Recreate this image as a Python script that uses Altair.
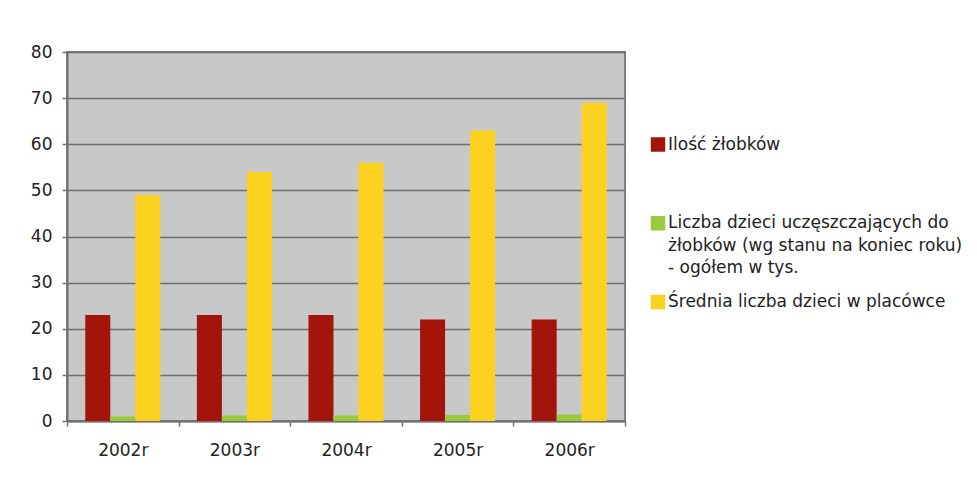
import altair as alt
import pandas as pd

years = ["2002r", "2003r", "2004r", "2005r", "2006r"]
series = [
    "Ilość żłobków",
    "Liczba dzieci uczęszczających do żłobków (wg stanu na koniec roku) - ogółem w tys.",
    "Średnia liczba dzieci w placówce",
]
legend_labels = [
    "Ilość żłobków",
    "Liczba dzieci uczęszczających do\nżłobków (wg stanu na koniec roku)\n- ogółem w tys.",
    "Średnia liczba dzieci w placówce",
]
ilosc = [23, 23, 23, 22, 22]
liczba = [1.0, 1.2, 1.2, 1.3, 1.4]
srednia = [49, 54, 56, 63, 69]
colors = ["#A3140B", "#9BCB3B", "#FDD11F"]

rows = []
for i, y in enumerate(years):
    for s, vals in zip(series, [ilosc, liczba, srednia]):
        rows.append({"rok": y, "seria": s, "wartosc": vals[i]})
df = pd.DataFrame(rows)
legend_df = pd.DataFrame({"seria": series, "etykieta": legend_labels})

FONT = "DejaVu Sans"
color_scale = alt.Scale(domain=series, range=colors)

bars = alt.Chart(df).mark_bar().encode(
    x=alt.X(
        "rok:N",
        sort=years,
        title=None,
        scale=alt.Scale(paddingInner=0, paddingOuter=0),
        axis=alt.Axis(
            labelAngle=0,
            labelFont=FONT,
            labelFontSize=17,
            labelColor="#222222",
            labelPadding=16,
            tickBand="extent",
            ticks=True,
            tickSize=5,
            tickColor="#707070",
            tickWidth=1.5,
            domainColor="#707070",
            domainWidth=2,
            grid=False,
        ),
    ),
    xOffset=alt.XOffset(
        "seria:N",
        sort=series,
        scale=alt.Scale(paddingInner=0, paddingOuter=0.73),
    ),
    y=alt.Y(
        "wartosc:Q",
        title=None,
        scale=alt.Scale(domain=[0, 80], nice=False),
        axis=alt.Axis(
            values=[0, 10, 20, 30, 40, 50, 60, 70, 80],
            labelFont=FONT,
            labelFontSize=17,
            labelColor="#222222",
            labelPadding=10,
            tickSize=5,
            tickColor="#707070",
            tickWidth=1.5,
            domainColor="#707070",
            domainWidth=2,
            gridColor="#6E6E6E",
            gridWidth=1.5,
        ),
    ),
    color=alt.Color("seria:N", sort=series, scale=color_scale, legend=None),
)

legend_y = alt.Y(
    "seria:N",
    sort=series,
    axis=None,
    scale=alt.Scale(type="point", range=[92.5, 250], padding=0),
)

legend_symbols = alt.Chart(legend_df).mark_square(size=210, opacity=1).encode(
    x=alt.value(591),
    y=legend_y,
    color=alt.Color("seria:N", sort=series, scale=color_scale, legend=None),
)

legend_text = alt.Chart(legend_df).mark_text(
    align="left",
    baseline="top",
    dy=-8,
    lineBreak="\n",
    lineHeight=22.5,
    font=FONT,
    fontSize=17,
    color="#222222",
).encode(
    x=alt.value(601),
    y=legend_y,
    text="etykieta:N",
)

chart = alt.layer(bars, legend_symbols, legend_text).resolve_scale(
    y="independent"
).properties(
    width=558,
    height=369,
    padding={"left": 59, "top": 44, "right": 344, "bottom": 52},
    autosize=alt.AutoSizeParams(type="none"),
).configure(
    background="white",
    view=alt.ViewConfig(fill="#C8C8C8", stroke="#808080", strokeWidth=2),
)

chart.save("out.html", embed_options={"renderer": "svg", "actions": False})
